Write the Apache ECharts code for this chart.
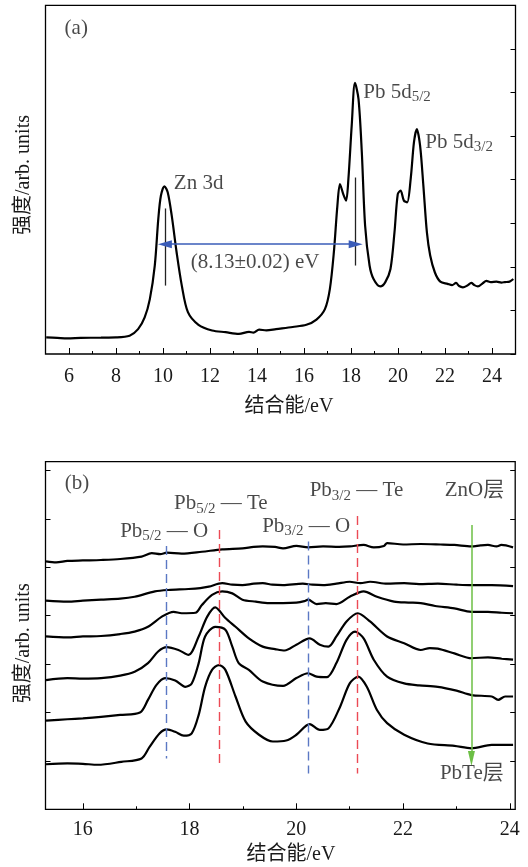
<!DOCTYPE html>
<html>
<head>
<meta charset="utf-8">
<script src="https://cdn.jsdelivr.net/npm/echarts@6/dist/echarts.min.js"></script>
<style>html,body{margin:0;padding:0;background:#fff}#c{width:528px;height:867px}</style>
</head>
<body>
<div id="c"></div>
<script>
// ---------- Panel (a) data ----------
const specA = [[5.03,0.38],[5.5,0.37],[5.93,0.36],[6.5,0.37],[7.36,0.375],[8.0,0.38],[8.58,0.42],[8.94,0.57],[9.22,0.84],[9.44,1.26],[9.65,2.03],[9.80,3.10],[9.91,3.63],[10.06,3.85],[10.20,3.71],[10.37,3.18],[10.58,2.33],[10.80,1.57],[11.06,0.96],[11.51,0.67],[12.09,0.54],[12.66,0.50],[13.23,0.46],[13.66,0.51],[13.85,0.49],[14.09,0.56],[14.4,0.54],[14.81,0.57],[15.52,0.62],[16.10,0.67],[16.53,0.79],[16.89,1.03],[17.10,1.49],[17.27,2.33],[17.42,3.40],[17.53,3.90],[17.67,3.67],[17.79,3.52],[17.89,4.02],[18.03,5.24],[18.17,6.22],[18.32,5.85],[18.46,4.63],[18.60,2.95],[18.79,2.03],[18.96,1.72],[19.25,1.55],[19.46,1.65],[19.68,1.95],[19.85,2.79],[19.99,3.67],[20.11,3.75],[20.25,3.52],[20.39,3.48],[20.54,4.02],[20.68,4.86],[20.80,5.16],[20.94,4.78],[21.08,3.86],[21.23,2.79],[21.37,2.26],[21.57,1.87],[21.80,1.66],[22.11,1.61],[22.3,1.58],[22.47,1.63],[22.6,1.56],[22.76,1.53],[22.95,1.57],[23.12,1.63],[23.25,1.58],[23.40,1.55],[23.6,1.62],[23.76,1.68],[23.95,1.65],[24.19,1.66],[24.4,1.64],[24.55,1.65],[24.75,1.66],[24.91,1.72]];
const xTicksA = [6,8,10,12,14,16,18,20,22,24];
const xMinorA = [7,9,11,13,15,17,19,21,23];
const zn3dBar = [10.08, 1.57, 3.34];     // x, yFrom, yTo
const pb5dBar = [18.20, 2.03, 4.05];
const splitArrow = [10.08, 18.20, 2.52]; // xFrom, xTo, y
const labelsA = [
  {x:5.79, y:7.46, t:'{m|(a)}'},
  {x:10.44, y:3.92, t:'{m|Zn 3d}'},
  {x:18.50, y:6.01, t:'{m|Pb 5d}{s|5/2}'},
  {x:21.14, y:4.86, t:'{m|Pb 5d}{s|3/2}'},
  {x:11.16, y:2.10, t:'{m|(8.13±0.02) eV}'}
];

// ---------- Panel (b) data ----------
const specB1 = [[15.31,5.12],[15.5,5.10],[15.71,5.13],[16.0,5.14],[16.34,5.15],[16.7,5.17],[17.10,5.22],[17.29,5.29],[17.45,5.27],[17.57,5.30],[17.85,5.28],[18.23,5.32],[18.61,5.37],[18.99,5.39],[19.2,5.42],[19.37,5.43],[19.6,5.42],[19.75,5.39],[20.0,5.44],[20.22,5.41],[20.5,5.43],[20.8,5.42],[21.0,5.43],[21.26,5.46],[21.45,5.41],[21.64,5.44],[21.70,5.50],[22.0,5.47],[22.33,5.48],[22.7,5.47],[22.96,5.46],[23.28,5.43],[23.45,5.45],[23.59,5.46],[23.75,5.43],[23.84,5.46],[24.06,5.41]];
const specB2 = [[15.31,4.31],[15.71,4.29],[16.0,4.31],[16.34,4.33],[16.7,4.35],[16.97,4.39],[17.35,4.50],[17.60,4.53],[17.98,4.55],[18.2,4.57],[18.36,4.60],[18.61,4.67],[18.8,4.64],[18.99,4.63],[19.2,4.66],[19.37,4.67],[19.55,4.64],[19.75,4.63],[20.12,4.66],[20.3,4.64],[20.50,4.63],[20.75,4.66],[21.0,4.70],[21.2,4.67],[21.38,4.70],[21.7,4.66],[22.02,4.67],[22.3,4.65],[22.65,4.66],[23.0,4.64],[23.28,4.63],[23.66,4.63],[24.06,4.61]];
const specB3 = [[15.31,3.57],[15.71,3.55],[16.0,3.57],[16.34,3.58],[16.7,3.62],[16.97,3.67],[17.22,3.77],[17.48,3.98],[17.70,4.08],[17.85,4.05],[18.11,4.06],[18.23,4.22],[18.42,4.43],[18.61,4.50],[18.80,4.46],[18.99,4.33],[19.24,4.29],[19.49,4.26],[19.75,4.26],[20.0,4.27],[20.15,4.30],[20.22,4.33],[20.38,4.24],[20.55,4.26],[20.75,4.24],[21.0,4.39],[21.26,4.50],[21.51,4.39],[21.83,4.29],[22.1,4.27],[22.33,4.26],[22.6,4.20],[22.96,4.15],[23.28,4.08],[23.59,4.08],[23.85,4.06],[24.06,4.05]];
const specB4 = [[15.31,2.67],[15.71,2.71],[16.0,2.70],[16.34,2.71],[16.7,2.76],[16.97,2.84],[17.22,3.02],[17.41,3.26],[17.57,3.35],[17.79,3.29],[17.98,3.19],[18.17,3.57],[18.33,3.98],[18.48,4.17],[18.67,3.95],[18.86,3.77],[19.11,3.53],[19.37,3.36],[19.6,3.31],[19.78,3.28],[20.0,3.40],[20.25,3.53],[20.44,3.40],[20.60,3.36],[20.75,3.57],[20.94,3.88],[21.15,4.05],[21.38,3.88],[21.70,3.57],[22.02,3.43],[22.33,3.29],[22.5,3.33],[22.65,3.32],[22.96,3.22],[23.28,3.12],[23.59,3.14],[23.85,3.11],[24.06,3.09]];
const specB5 = [[15.31,1.83],[15.71,1.86],[16.0,1.88],[16.34,1.91],[16.7,1.95],[17.07,2.00],[17.22,2.26],[17.38,2.57],[17.54,2.71],[17.73,2.66],[17.92,2.53],[18.04,2.60],[18.17,3.02],[18.29,3.57],[18.48,3.77],[18.67,3.71],[18.80,3.36],[18.92,3.02],[19.11,2.88],[19.37,2.64],[19.75,2.55],[20.0,2.71],[20.22,2.81],[20.38,2.74],[20.57,2.73],[20.75,3.02],[20.94,3.50],[21.10,3.67],[21.26,3.53],[21.45,3.09],[21.70,2.74],[22.02,2.60],[22.3,2.56],[22.65,2.53],[23.0,2.45],[23.28,2.36],[23.66,2.33],[23.78,2.26],[23.91,2.33],[24.06,2.33]];
const specB6 = [[15.31,0.93],[15.71,0.95],[16.0,0.94],[16.28,0.92],[16.72,0.98],[17.10,1.05],[17.25,1.29],[17.44,1.57],[17.57,1.65],[17.73,1.60],[17.89,1.52],[18.04,1.57],[18.17,1.95],[18.29,2.53],[18.42,2.88],[18.55,2.98],[18.67,2.88],[18.86,2.33],[19.05,1.81],[19.30,1.54],[19.56,1.40],[19.81,1.42],[20.0,1.54],[20.25,1.76],[20.44,1.64],[20.60,1.67],[20.82,2.12],[21.0,2.60],[21.16,2.74],[21.32,2.53],[21.51,2.05],[21.70,1.78],[22.02,1.54],[22.46,1.36],[22.96,1.31],[23.28,1.26],[23.66,1.33],[24.06,1.33]];
const xTicksB = [16,18,20,22,24];
const xMinorB = [17,19,21,23];
const blueDashes = [[17.57, 5.44, 1.05], [20.22, 5.53, 0.74]]; // x, yTop, yBottom
const redDashes  = [[18.56, 5.77, 0.92], [21.15, 6.06, 0.74]];
const depthArrow = [23.28, 5.87, 1.05];
const labelsB = [
  {x:15.65, y:6.74, t:'{m|(b)}'},
  {x:17.70, y:6.31, t:'{m|Pb}{s|5/2}{m| — Te}'},
  {x:16.69, y:5.74, t:'{m|Pb}{s|5/2}{m| — O}'},
  {x:19.35, y:5.85, t:'{m|Pb}{s|3/2}{m| — O}'},
  {x:20.24, y:6.58, t:'{m|Pb}{s|3/2}{m| — Te}'},
  {x:22.77, y:6.58, t:'{m|ZnO层}'},
  {x:22.68, y:0.74, t:'{m|PbTe层}'}
];

// ---------- styling ----------
const FONT = '"Liberation Serif", "Noto Sans CJK SC", serif';
const TXT = '#1a1a1a';
const rich = {
  m: {fontFamily: FONT, fontSize: 21, color: TXT, lineHeight: 25},
  s: {fontFamily: FONT, fontSize: 15, color: TXT, lineHeight: 14, verticalAlign: 'bottom'}
};

function xMajor(grid, min, max, vals, margin) {
  return {type:'value', gridIndex:grid, min:min, max:max, position:'bottom',
    axisLine:{show:false}, splitLine:{show:false},
    axisTick:{show:true, inside:true, length:6, customValues:vals, lineStyle:{color:'#000', width:1}},
    axisLabel:{show:true, customValues:vals, margin:margin, fontFamily:FONT, fontSize:20, color:TXT}};
}
function xMinor(grid, min, max, vals) {
  return {type:'value', gridIndex:grid, min:min, max:max, position:'bottom',
    axisLine:{show:false}, splitLine:{show:false},
    axisTick:{show:true, inside:true, length:3, customValues:vals, lineStyle:{color:'#000', width:1}},
    axisLabel:{show:false}};
}
function yAx(grid, max, pos, ticks) {
  return {type:'value', gridIndex:grid, min:0, max:max, interval:1, position:pos,
    axisLine:{show:false}, splitLine:{show:false},
    axisTick:{show:ticks, inside:true, length:5, lineStyle:{color:'#000', width:1}},
    axisLabel:{show:false}};
}
function curve(data, xi, yi, extra) {
  return Object.assign({type:'line', data:data, xAxisIndex:xi, yAxisIndex:yi, showSymbol:false,
    smooth:0.3, lineStyle:{color:'#000', width:2.2}, silent:true, z:3}, extra || {});
}
function labelSeries(items, xi, yi) {
  return {type:'scatter', xAxisIndex:xi, yAxisIndex:yi, symbolSize:1, silent:true, z:5,
    itemStyle:{color:'rgba(0,0,0,0)'},
    label:{show:true, position:'right', distance:0, rich:rich},
    data: items.map(d => ({value:[d.x, d.y], label:{formatter:d.t}}))};
}
function vLine(x, y0, y1, style) {
  return [{coord:[x, y0], symbol:'none', lineStyle:style},
          {coord:[x, y1], symbol:'none'}];
}

const blueDash = {color:'#5b78c4', width:1.4, type:[9,5]};
const redDash  = {color:'#ec4a55', width:1.4, type:[9,5]};
const blackBar = {color:'#222', width:1.3, type:'solid'};

const option = {
  animation:false,
  backgroundColor:'#fff',
  grid:[
    {left:45.5, top:5.4, width:470, height:348.6, show:true, borderColor:'#000', borderWidth:1.3, backgroundColor:'transparent'},
    {left:45.5, top:461.7, width:469.7, height:347.6, show:true, borderColor:'#000', borderWidth:1.3, backgroundColor:'transparent'}
  ],
  xAxis:[
    xMajor(0, 5, 25, xTicksA, 13),
    xMinor(0, 5, 25, xMinorA),
    xMajor(1, 15.3, 24.1, xTicksB, 10),
    xMinor(1, 15.3, 24.1, xMinorB)
  ],
  yAxis:[
    yAx(0, 8, 'left', false),
    yAx(0, 8, 'right', true),
    yAx(1, 7.18, 'left', true),
    yAx(1, 7.18, 'right', true)
  ],
  series:[
    curve(specA, 0, 0, {markLine:{silent:true, animation:false, label:{show:false}, symbol:['none','none'],
      data:[
        vLine(zn3dBar[0], zn3dBar[1], zn3dBar[2], blackBar),
        vLine(pb5dBar[0], pb5dBar[1], pb5dBar[2], blackBar),
        [{coord:[splitArrow[0], splitArrow[2]], symbol:'triangle', symbolSize:[8,14], lineStyle:{color:'#3a5cb8', width:1.6, type:'solid'}},
         {coord:[splitArrow[1], splitArrow[2]], symbol:'triangle', symbolSize:[8,14]}]
      ]}}),
    labelSeries(labelsA, 0, 0),
    curve(specB1, 2, 2, {markLine:{silent:true, animation:false, label:{show:false}, symbol:['none','none'],
      data:[
        ...blueDashes.map(d => vLine(d[0], d[1], d[2], blueDash)),
        ...redDashes.map(d => vLine(d[0], d[1], d[2], redDash)),
        [{coord:[depthArrow[0], depthArrow[1]], symbol:'none', lineStyle:{color:'#6cbf45', width:1.5, type:'solid'}},
         {coord:[depthArrow[0], depthArrow[2]], symbol:'triangle', symbolSize:[7,15]}]
      ]}}),
    curve(specB2, 2, 2),
    curve(specB3, 2, 2),
    curve(specB4, 2, 2),
    curve(specB5, 2, 2),
    curve(specB6, 2, 2),
    labelSeries(labelsB, 2, 2)
  ],
  graphic:[
    {type:'text', x:289, y:406.7, silent:true, style:{text:'结合能/eV', font:'20px ' + FONT, fill:TXT, align:'center', verticalAlign:'middle'}},
    {type:'text', x:23.5, y:175, rotation:Math.PI/2, silent:true, style:{text:'强度/arb. units', font:'20px ' + FONT, fill:TXT, align:'center', verticalAlign:'middle'}},
    {type:'text', x:291, y:855, silent:true, style:{text:'结合能/eV', font:'20px ' + FONT, fill:TXT, align:'center', verticalAlign:'middle'}},
    {type:'text', x:24, y:643.3, rotation:Math.PI/2, silent:true, style:{text:'强度/arb. units', font:'20px ' + FONT, fill:TXT, align:'center', verticalAlign:'middle'}}
  ]
};
const chart = echarts.init(document.getElementById('c'), null, {renderer:'canvas'});
chart.setOption(option);
</script>
</body>
</html>
